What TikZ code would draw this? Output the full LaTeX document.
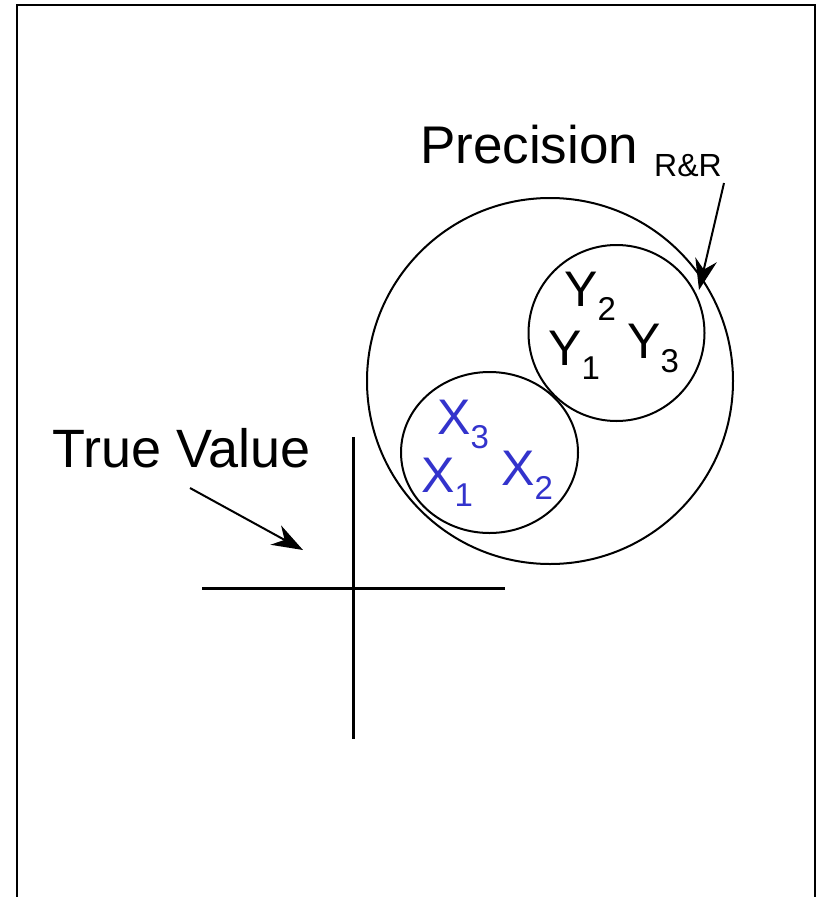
\documentclass[tikz,border=0pt]{standalone}
\usepackage{fontspec}
\setmainfont{Liberation Sans}
\usetikzlibrary{arrows.meta}
\definecolor{xblue}{RGB}{51,51,204}
\newcommand\biglbl[2]{{\fontsize{50}{60}\selectfont #1}\raisebox{-14pt}{\fontsize{33}{40}\selectfont #2}}
\begin{document}
\begin{tikzpicture}[x=1pt,y=-1pt,
  ring/.style={line width=2pt},
  pointer/.style={line width=2pt,-{Stealth[length=31pt,width=22pt,inset=10pt]}},
  txt/.style={inner sep=0pt,anchor=base west},
  crossline/.style={line width=3pt}]
\useasboundingbox (0,0) rectangle (817,897);
% frame
\draw[line width=2.4pt] (17,897) -- (17,5) -- (815,5) -- (815,897);
% circles
\draw[ring] (550,381) circle[radius=183];
\draw[ring] (616.5,333) circle[radius=88];
\draw[ring] (489.5,452.5) ellipse[x radius=88.5,y radius=80.5];
% labels
\node[txt] (prec) at (420,163) {\fontsize{53}{60}\selectfont Precision};
\node[txt] (rr) at (654,176) {\fontsize{32}{36}\selectfont R\&R};
\node[txt] (tv) at (52,467) {\fontsize{54}{60}\selectfont True Value};
\node[txt,text=xblue] (x3) at (437,434) {\biglbl{X}{3}};
\node[txt,text=xblue] (x1) at (421,492) {\biglbl{X}{1}};
\node[txt,text=xblue] (x2) at (501,485) {\biglbl{X}{2}};
\node[txt] (y2) at (564,306) {\biglbl{Y}{2}};
\node[txt] (y1) at (548,365) {\biglbl{Y}{1}};
\node[txt] (y3) at (627,358) {\biglbl{Y}{3}};
% arrows
\coordinate (rrs) at (724,183);
\coordinate (rrt) at (699,290);
\draw[pointer] (rrs) -- (rrt);
\coordinate (tvs) at (190,488);
\coordinate (tvt) at (303,550);
\draw[pointer] (tvs) -- (tvt);
% cross
\coordinate (vt) at (353,437);
\coordinate (vb) at (353,739);
\coordinate (hl) at (202,588);
\coordinate (hr) at (505,588);
\draw[crossline] (vt) -- (vb);
\draw[crossline] (hl) -- (hr);
\end{tikzpicture}
\end{document}
